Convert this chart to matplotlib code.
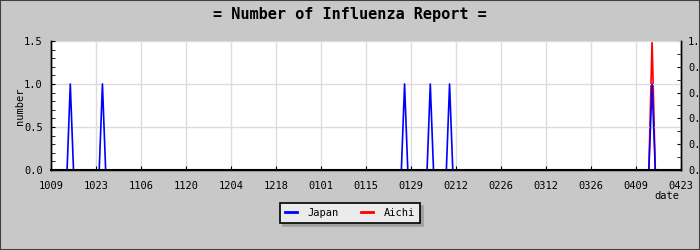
import pandas as pd
import numpy as np
import matplotlib
matplotlib.use("Agg")
import matplotlib.pyplot as plt
from matplotlib.patches import Rectangle
from matplotlib.ticker import MultipleLocator

# data: daily report counts, only non-zero days listed
start_date = "2009-10-09"
end_date = "2010-04-23"
japan_dates = ["2009-10-15", "2009-10-25", "2010-01-27", "2010-02-04", "2010-02-10", "2010-04-14"]
japan_counts = [1, 1, 1, 1, 1, 1]
aichi_dates = ["2010-04-14"]
aichi_counts = [1]

days = pd.date_range(start_date, end_date, freq="D")
japan = pd.Series(japan_counts, index=pd.to_datetime(japan_dates)).reindex(days, fill_value=0)
aichi = pd.Series(aichi_counts, index=pd.to_datetime(aichi_dates)).reindex(days, fill_value=0)
tick_dates = pd.date_range(start_date, end_date, freq="14D")

mono = "DejaVu Sans Mono"
plt.rcParams["font.family"] = mono

fig = plt.figure(figsize=(7, 2.5), dpi=100, facecolor="#c8c8c8")
ax = fig.add_axes([51 / 700, 80 / 250, 630 / 700, 129 / 250])
ax2 = ax.twinx()

# Japan on top of Aichi
ax.set_zorder(2)
ax.patch.set_visible(False)
ax2.set_zorder(1)
ax2.patch.set_visible(True)
ax2.patch.set_facecolor("white")

ax2.plot(days, aichi.values, color="red", lw=1.2, label="Aichi")
ax.plot(days, japan.values, color="blue", lw=1.2, label="Japan")

ax.set_xlim(days[0], days[-1])
ax.set_ylim(0, 1.5)
ax2.set_ylim(0, 1.0)

ax.set_xticks(tick_dates)
ax.set_xticklabels([d.strftime("%m%d") for d in tick_dates])
ax.yaxis.set_major_locator(MultipleLocator(0.5))
ax.yaxis.set_minor_locator(MultipleLocator(0.1))
ax.yaxis.set_major_formatter(matplotlib.ticker.FormatStrFormatter("%.1f"))
ax2.yaxis.set_major_locator(MultipleLocator(0.2))
ax2.yaxis.set_minor_locator(MultipleLocator(0.1))
ax2.yaxis.set_major_formatter(matplotlib.ticker.FormatStrFormatter("%.1f"))

ax.grid(True, which="major", color="#dcdcdc", lw=1)
ax.set_axisbelow(True)

ax.tick_params(axis="y", which="both", direction="in", length=3, labelsize=7.5, pad=6, left=True, right=False)
ax.tick_params(axis="x", which="both", direction="in", length=3, labelsize=7.5, pad=8, top=False)
ax2.tick_params(axis="y", which="both", direction="in", length=3, labelsize=7.5, pad=5)

for a in (ax, ax2):
    for s in a.spines.values():
        s.set_color("black")
        s.set_linewidth(1)
ax.spines["top"].set_visible(False)
ax2.spines["top"].set_visible(False)
ax.spines["bottom"].set_linewidth(1.5)

fig.text(0.5, 1 - 14 / 250, "= Number of Influenza Report =", ha="center", va="center",
         fontsize=11, fontweight="bold", family=mono)
fig.text(20 / 700, 1 - 106 / 250, "number", rotation=90, ha="center", va="center", fontsize=7.5)
fig.text(667 / 700, 1 - 196 / 250, "date", ha="center", va="center", fontsize=7.5)

h1, l1 = ax.get_legend_handles_labels()
h2, l2 = ax2.get_legend_handles_labels()
leg = fig.legend(h1 + h2, l1 + l2, loc="center", bbox_to_anchor=(350 / 700, 1 - 213 / 250),
                 ncol=2, fontsize=7.5, frameon=True, fancybox=False, shadow={"color": "#a0a0a0", "alpha": 1},
                 handlelength=1.1, handletextpad=1.0, columnspacing=2.2, borderpad=0.5)
leg.get_frame().set_facecolor("#ebebeb")
leg.get_frame().set_edgecolor("black")
leg.get_frame().set_linewidth(1.2)
for line in leg.get_lines():
    line.set_linewidth(2)

fig.patches.append(Rectangle((0, 0), 1, 1, transform=fig.transFigure, fill=False,
                             edgecolor="#404040", lw=1.5))

fig.savefig("out.png", dpi=100, facecolor=fig.get_facecolor())
